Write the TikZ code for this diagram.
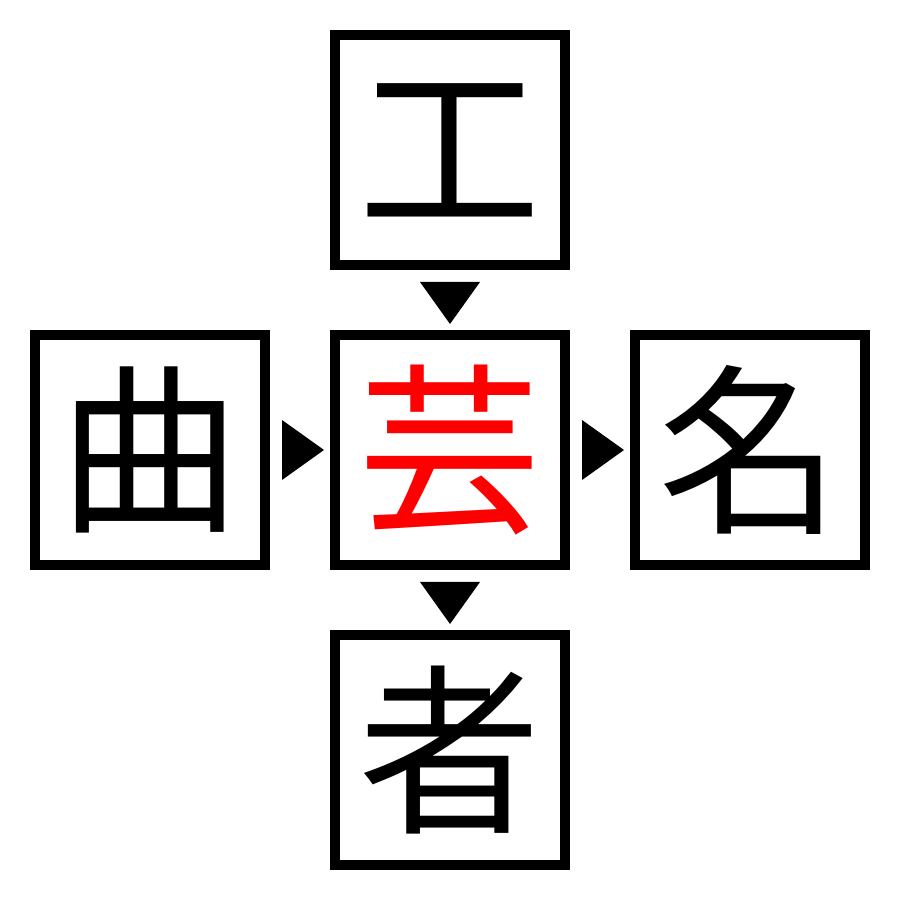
\documentclass[tikz,border=0pt]{standalone}
\usepackage{fontspec}
\usepackage{tikz}
\usepackage{xcolor}
\usetikzlibrary{calc}
\newfontfamily\cjk{Noto Sans CJK JP}
\definecolor{kanjired}{rgb}{1,0,0}
\tikzstyle{kanji}=[draw,rectangle,black,line width=0.1cm,inner sep=0pt,minimum size=2.3cm,font=\cjk\fontsize{52}{52}\selectfont]
\tikzstyle{pointer}=[fill=black]

\begin{document}
\begin{tikzpicture}%
	\useasboundingbox (0,0) rectangle (9,9);

	\begin{scope}
		\draw  (4.5,7.5)   node (Kanji_Top)    [kanji]  {工};
		\draw  (1.5,4.5)   node (Kanji_Left)   [kanji]  {曲};
		\draw  (4.5,4.5)   node (Kanji_Mid)    [kanji, text=kanjired]  {芸};
		\draw  (7.5,4.5)   node (Kanji_Right)  [kanji]  {名};
		\draw  (4.5,1.5)   node (Kanji_Bottom) [kanji]  {者};

		\fill [pointer] ($(Kanji_Top.south)+(-0.3,-0.12)$) -- ++(0.6,0) -- ++(-0.3,-0.42) -- cycle;
		\fill [pointer] ($(Kanji_Mid.south)+(-0.3,-0.12)$) -- ++(0.6,0) -- ++(-0.3,-0.42) -- cycle;
		\fill [pointer] ($(Kanji_Left.east)+(0.12,0.3)$) -- ++(0,-0.6) -- ++(0.42,0.3) -- cycle;
		\fill [pointer] ($(Kanji_Mid.east)+(0.12,0.3)$) -- ++(0,-0.6) -- ++(0.42,0.3) -- cycle;
	\end{scope}

\end{tikzpicture}
\end{document}
